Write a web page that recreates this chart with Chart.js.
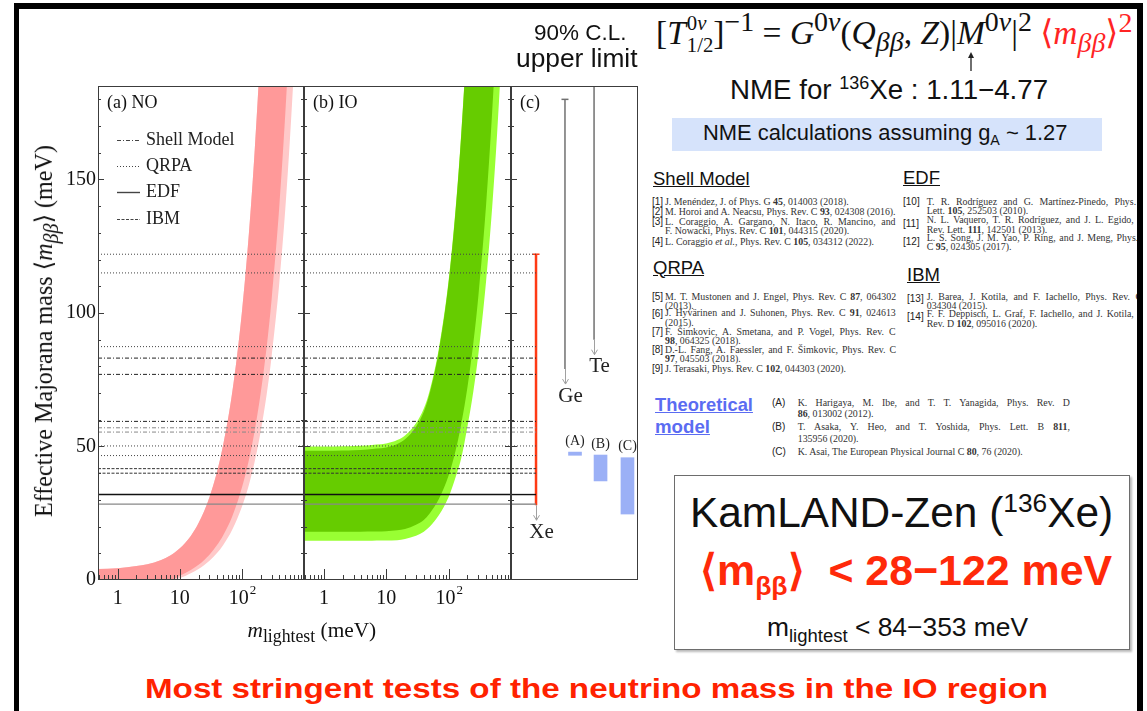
<!DOCTYPE html>
<html>
<head>
<meta charset="utf-8">
<title>KamLAND-Zen effective Majorana mass</title>
<script src="https://cdn.jsdelivr.net/npm/chart.js@4.4.1/dist/chart.umd.min.js"></script>
<style>
  html, body { margin: 0; padding: 0; background: #fff; }
  #slide { position: relative; width: 1147px; height: 711px; overflow: hidden; background: #fff; }
  #slide canvas { position: absolute; }
  .t { position: absolute; white-space: nowrap; line-height: 1; }
  .serif { font-family: "Liberation Serif", "DejaVu Serif", serif; }
  .sans { font-family: "Liberation Sans", Arial, sans-serif; }
  .t sub, .t sup { line-height: 0; }
  #frame { position: absolute; left: 14px; top: 3px; width: 1118px; height: 760px; border-style: solid; border-color: #000; border-width: 6px 6px 0 5px; z-index: 10; }
  #coverR { position: absolute; left: 1143px; top: 0; width: 4px; height: 711px; background: #fff; z-index: 11; }
  #nmeBox { position: absolute; left: 672px; top: 118px; width: 430px; height: 33px; background: #d6e3fb; }
  #klzBox { position: absolute; left: 674px; top: 475px; width: 454px; height: 173px; border: 1.5px solid #6d6d6d; box-shadow: 2px 2px 2px #bbb; }
</style>
</head>
<body>
<div id="slide">
  <div id="nmeBox"></div>
  <div id="klzBox"></div>
  <canvas id="panelA" width="280" height="560" style="left:30px;top:76px"></canvas>
  <canvas id="panelB" width="224" height="560" style="left:296px;top:76px"></canvas>
  <canvas id="panelC" width="144" height="560" style="left:503px;top:76px"></canvas>
  <div id="frame"></div>
  <div id="coverR"></div>
</div>
<script>
// ---- values ----
const mLightest = [0.48, 1, 2, 3, 5, 7, 10, 15, 20, 30, 40, 50, 70, 100, 130, 160, 200, 250, 300, 400, 500, 600, 700, 850, 1000];

// normal ordering band (meV)
const noUpper      = [4.1, 4.4, 5.2, 5.9, 7.5, 9.2, 11.9, 16.5, 21.3, 31.0, 40.8, 50.7, 70.5, 100.4, 130.3, 160.3, 200.2, 250.2, 300.2, 400.2, 500.2, 600.2, 700.2, 850.2, 1000.2];
const noLowerDark  = [0, 0, 0, 0, 0, 0, 1.6, 3.7, 5.7, 9.5, 13.2, 16.8, 23.9, 34.6, 45.1, 55.7, 69.8, 87.2, 104.8, 139.8, 174.8, 209.8, 244.9, 297.4, 349.9];
const noLowerLight = [0, 0, 0, 0, 0, 0, 0.7, 2.5, 4.1, 7.2, 10.2, 13.1, 18.9, 27.4, 35.8, 44.2, 55.5, 69.4, 83.4, 111.2, 139.0, 166.9, 194.7, 236.4, 278.2];

// inverted ordering band (meV)
const ioUpperDark  = [48.4, 48.4, 48.5, 48.6, 48.9, 49.2, 49.6, 50.9, 52.7, 57.4, 63.0, 70.1, 86.0, 111.4, 138.9, 167.3, 206.0, 254.9, 304.6, 404.5, 504.5, 604.5, 704.5, 854.5, 1004.5];
const ioUpperLight = [50.0, 50.0, 50.1, 50.2, 50.4, 50.7, 51.1, 52.4, 54.1, 58.7, 64.2, 71.2, 87.0, 112.3, 139.7, 168.0, 206.7, 255.5, 305.2, 405.0, 505.0, 605.0, 705.0, 855.0, 1005.0];
const ioLowerDark  = [18.1, 18.1, 18.1, 18.1, 18.2, 18.2, 18.3, 18.6, 19.1, 20.7, 22.5, 25.0, 30.4, 39.1, 48.7, 58.7, 72.1, 89.1, 106.4, 140.9, 175.7, 210.5, 244.9, 297.0, 349.0];
const ioLowerLight = [14.7, 14.7, 14.7, 14.7, 14.7, 14.8, 14.8, 14.9, 15.4, 16.6, 18.1, 20.0, 24.3, 31.1, 38.7, 45.8, 57.4, 70.9, 84.6, 112.3, 139.8, 167.5, 195.7, 236.7, 278.0];

// KamLAND-Zen limits for each NME calculation (meV)
const shellModelLimits = [83.1, 77.0, 59.4, 57.0, 55.4];
const qrpaLimits = [122, 115, 87.4, 50.2, 46.6];
const edfLimits = [32.0, 28.4];
const ibmLimits = [41.7, 40.0];

// panel (c)
const expNames = ['Xe', 'Ge', 'Te'];
const expLow = [28, 79, 90];
const expHigh = [122, 180, 305];
const modelNames = ['(A)', '(B)', '(C)'];
const modelLow = [46.7, 37.1, 24.7];
const modelHigh = [47.9, 46.8, 45.8];

// axes
const yTicks = [0, 50, 100, 150];
const xTicks = [1, 10, 100];
const xTickBase = ['1', '10', '10'];
const xTickExp = ['', '', '2'];

// ---- styling ----
const nmeGroups = [['Shell Model', shellModelLimits], ['QRPA', qrpaLimits], ['EDF', edfLimits], ['IBM', ibmLimits]];
const nmeStyle = {
  'Shell Model': { dash: [4, 2, 1, 2], width: 1, colors: ['#222', '#222', '#222', '#888', '#888'] },
  'QRPA':        { dash: [1, 2], width: 1, colors: ['#444'] },
  'EDF':         { dash: [], width: 1.4, colors: ['#111', '#888'] },
  'IBM':         { dash: [3, 1.5], width: 1, colors: ['#333'] }
};
const cSlot = { exp: [0.197, 0.425, 0.654], model: [0.504, 0.705, 0.917] };
const serif = '"Liberation Serif", "DejaVu Serif", serif';

function edge(ys, extra) {
  return Object.assign({
    type: 'line', data: mLightest.map((x, i) => ({ x: x, y: ys[i] })),
    pointRadius: 0, borderWidth: 0, borderColor: 'rgba(0,0,0,0)',
    cubicInterpolationMode: 'monotone', fill: false
  }, extra);
}

function nmeLines(x0, x1) {
  const out = [];
  nmeGroups.forEach(([name, vals]) => {
    const st = nmeStyle[name];
    vals.forEach((v, i) => out.push({
      type: 'line', data: [{ x: x0, y: v }, { x: x1, y: v }],
      borderColor: st.colors[i % st.colors.length], borderWidth: st.width, borderDash: st.dash,
      pointRadius: 0, fill: false, order: 0
    }));
  });
  return out;
}

// frame, inward ticks, tick labels and annotations of each panel
const panelDeco = {
  id: 'panelDeco',
  afterDatasetsDraw(chart, args, opt) {
    const ctx = chart.ctx, a = chart.chartArea;
    const xs = chart.scales.x, ys = chart.scales.y;
    ctx.save();
    ctx.strokeStyle = '#3c3c3c';
    ctx.lineWidth = 1;
    ctx.setLineDash([]);
    ctx.strokeRect(a.left + 0.5, a.top + 0.5, a.right - a.left - 1, a.bottom - a.top - 1);

    ctx.beginPath();
    for (let v = 10; v < ys.max; v += 10) {
      const py = Math.round(ys.getPixelForValue(v)) + 0.5;
      const len = v % 50 === 0 ? 6 : 3;
      if (opt.ticksLeft) { ctx.moveTo(a.left, py); ctx.lineTo(a.left + len, py); }
      if (opt.ticksRight) { ctx.moveTo(a.right, py); ctx.lineTo(a.right - len, py); }
    }
    if (opt.logTicks) {
      [0.1, 1, 10, 100].forEach(d => {
        for (let k = 1; k < 10; k++) {
          const v = k * d;
          if (v <= xs.min || v >= xs.max) continue;
          const px = Math.round(xs.getPixelForValue(v)) + 0.5;
          ctx.moveTo(px, a.bottom);
          ctx.lineTo(px, a.bottom - (k === 1 ? 11 : 5));
        }
      });
    }
    ctx.stroke();

    ctx.fillStyle = '#111';
    if (opt.yLabels) {
      ctx.font = '20px ' + serif;
      ctx.textAlign = 'right';
      ctx.textBaseline = 'middle';
      yTicks.forEach(v => ctx.fillText(String(v), a.left - 2, ys.getPixelForValue(v)));
    }
    if (opt.logTicks) {
      ctx.textBaseline = 'middle';
      ctx.textAlign = 'left';
      xTicks.forEach((v, i) => {
        ctx.font = '20px ' + serif;
        const wb = ctx.measureText(xTickBase[i]).width;
        ctx.font = '13px ' + serif;
        const we = xTickExp[i] ? ctx.measureText(xTickExp[i]).width : 0;
        const x0 = xs.getPixelForValue(v) - (wb + we) / 2;
        ctx.font = '20px ' + serif;
        ctx.fillText(xTickBase[i], x0, a.bottom + 19);
        if (we) { ctx.font = '13px ' + serif; ctx.fillText(xTickExp[i], x0 + wb + 1, a.bottom + 11); }
      });
    }
    if (opt.tag) {
      ctx.font = '18px ' + serif;
      ctx.textAlign = 'left';
      ctx.textBaseline = 'middle';
      ctx.fillText(opt.tag, a.left + 9, a.top + 17);
    }
    if (opt.legend) {
      const rows = [54, 80, 106, 133];
      ctx.font = '18px ' + serif;
      nmeGroups.forEach(([name], i) => {
        const st = nmeStyle[name];
        const y = a.top + rows[i] + 0.5;
        ctx.strokeStyle = '#444';
        ctx.lineWidth = st.width;
        ctx.setLineDash(st.dash);
        ctx.beginPath(); ctx.moveTo(a.left + 19, y); ctx.lineTo(a.left + 42, y); ctx.stroke();
        ctx.setLineDash([]);
        ctx.fillStyle = '#222';
        ctx.fillText(name, a.left + 48, y);
      });
    }
    if (opt.limits) {
      ctx.lineWidth = 1;
      ctx.strokeStyle = '#a0a0a0';
      ctx.fillStyle = '#222';
      ctx.font = '21px ' + serif;
      ctx.textAlign = 'center';
      ctx.textBaseline = 'middle';
      expNames.forEach((n, i) => {
        const px = Math.round(xs.getPixelForValue(cSlot.exp[i])) + 0.5;
        const py = ys.getPixelForValue(expLow[i]);
        const tip = py + 15;
        ctx.beginPath();
        ctx.moveTo(px, py); ctx.lineTo(px, tip);
        ctx.moveTo(px - 3, tip - 5); ctx.lineTo(px, tip); ctx.lineTo(px + 3, tip - 5);
        ctx.stroke();
        ctx.fillText(n, px + 5, tip + 12);
      });
      ctx.font = '14px ' + serif;
      modelNames.forEach((n, i) => {
        const px = xs.getPixelForValue(cSlot.model[i]);
        ctx.fillText(n, px, ys.getPixelForValue(modelHigh[i]) - 11);
      });
    }
    ctx.restore();
  }
};

function makePanel(id, datasets, xScale, padding, deco) {
  return new Chart(document.getElementById(id), {
    type: 'line',
    data: { datasets: datasets },
    options: {
      responsive: false, animation: false, devicePixelRatio: 1, events: [],
      layout: { padding: padding },
      scales: { x: xScale, y: { type: 'linear', min: 0, max: 185, display: false } },
      plugins: { legend: { display: false }, tooltip: { enabled: false }, panelDeco: deco }
    },
    plugins: [panelDeco]
  });
}

const logX = { type: 'logarithmic', min: 0.48, max: 1000, display: false };

makePanel('panelA', [
  edge(noUpper, { fill: { target: 1 }, backgroundColor: '#ffc9c9', order: 3 }),
  edge(noLowerLight, { order: 3 }),
  edge(noUpper, { fill: { target: 3 }, backgroundColor: '#ff9999', order: 2 }),
  edge(noLowerDark, { order: 2 }),
  ...nmeLines(0.48, 1000)
], logX, { left: 68, top: 10, right: 6, bottom: 56 },
  { ticksLeft: true, ticksRight: true, logTicks: true, yLabels: true, tag: '(a) NO', legend: true });

makePanel('panelB', [
  edge(ioUpperLight, { fill: { target: 1 }, backgroundColor: '#99ff33', order: 3 }),
  edge(ioLowerLight, { order: 3 }),
  edge(ioUpperDark, { fill: { target: 3 }, backgroundColor: '#66cc00', order: 2 }),
  edge(ioLowerDark, { order: 2 }),
  ...nmeLines(0.48, 1000)
], logX, { left: 8, top: 10, right: 9, bottom: 56 },
  { ticksLeft: true, ticksRight: true, logTicks: true, tag: '(b) IO' });

const expSets = expNames.map((n, i) => ({
  type: 'line',
  data: [{ x: cSlot.exp[i], y: expLow[i] }, { x: cSlot.exp[i], y: expHigh[i] }],
  borderColor: i === 0 ? '#ff3a14' : '#707070', borderWidth: i === 0 ? 2.5 : 1.5,
  pointStyle: 'line', pointRadius: c => c.dataIndex === 1 ? 3.5 : 0,
  pointBorderColor: i === 0 ? '#ff3a14' : '#707070', pointBorderWidth: 1.5, fill: false, order: 0
}));

makePanel('panelC', [
  ...nmeLines(0, cSlot.exp[0]),
  ...expSets,
  {
    type: 'bar',
    data: modelNames.map((n, i) => ({ x: cSlot.model[i], y: [modelLow[i], modelHigh[i]] })),
    backgroundColor: '#9bb0f6', borderWidth: 0, barThickness: 13, order: 1
  }
], { type: 'linear', min: 0, max: 1, offset: false, display: false, grid: { offset: false } },
  { left: 8, top: 10, right: 9, bottom: 56 },
  { ticksLeft: true, limits: true, tag: '(c)' });

// ---- slide text ----
const slide = document.getElementById('slide');
function txt(html, o) {
  const d = document.createElement('div');
  d.className = 't ' + (o.font || 'sans');
  d.innerHTML = html;
  d.style.fontSize = o.size + 'px';
  if (o.color) d.style.color = o.color;
  if (o.bold) d.style.fontWeight = 'bold';
  if (o.under) d.style.textDecoration = 'underline';
  slide.appendChild(d);
  if (o.w && !o.squeeze) d.style.fontSize = (o.size * o.w / d.offsetWidth) + 'px';
  if (o.just) {
    const spaces = (d.textContent.match(/ /g) || []).length;
    if (spaces) d.style.wordSpacing = ((o.just - d.offsetWidth) / spaces) + 'px';
  }
  const w = d.offsetWidth, h = d.offsetHeight;
  let left = o.x;
  if (o.align === 'center') left = o.x - w / 2;
  d.style.left = left + 'px';
  d.style.top = (o.top !== undefined ? o.top : o.y - h / 2) + 'px';
  const tf = [];
  if (o.squeeze) tf.push('scaleX(' + (o.w / w) + ')');
  if (o.rotate) tf.push('rotate(' + o.rotate + 'deg)');
  if (tf.length) d.style.transform = tf.join(' ');
  return d;
}

txt('Effective Majorana mass ⟨<i>m</i><sub><i>ββ</i></sub>⟩ (meV)', { font: 'serif', size: 22, w: 372, x: 44, y: 331, align: 'center', rotate: -90, color: '#111' });
txt('<i>m</i><sub>lightest</sub> (meV)', { font: 'serif', size: 22, w: 129, x: 312, y: 630, align: 'center', color: '#111' });

txt('90% C.L.', { size: 22, w: 93, x: 580, y: 33, align: 'center', color: '#111' });
txt('upper limit', { size: 22, w: 121, x: 577, y: 58, align: 'center', color: '#111' });

const stack = '<span style="display:inline-block;vertical-align:-0.4em;font-size:0.62em;line-height:1.05;margin-left:1px"><span style="display:block">0<i>ν</i></span><span style="display:block">1/2</span></span>';
txt('[<i>T</i>' + stack + ']<sup>−1</sup> = <i>G</i><sup>0<i>ν</i></sup>(<i>Q</i><sub><i>ββ</i></sub>, <i>Z</i>)|<i id="nmeM">M</i><sup>0<i>ν</i></sup>|<sup>2</sup> <span style="color:#ff2424">⟨<i>m</i><sub><i>ββ</i></sub>⟩<sup>2</sup></span>',
  { font: 'serif', size: 26, w: 477, x: 656, top: 12, color: '#111' });
const mRect = document.getElementById('nmeM').getBoundingClientRect();
const arrow = document.createElement('div');
arrow.style.cssText = 'position:absolute;top:52px;width:10px;height:19px;left:' + (mRect.left + mRect.width / 2 - 5) + 'px';
arrow.innerHTML = '<svg width="10" height="19"><line x1="5" y1="4" x2="5" y2="19" stroke="#222" stroke-width="1.3"/><path d="M2 6 L5 0 L8 6 Z" fill="#222"/></svg>';
slide.appendChild(arrow);

txt('NME for <sup style="font-size:0.65em">136</sup>Xe : 1.11−4.77', { size: 25, w: 318, x: 730, y: 90, color: '#111' });
txt('NME calculations assuming g<sub style="font-size:0.65em">A</sub> ~ 1.27', { size: 17, w: 365, x: 885, y: 133, align: 'center', color: '#111' });

txt('Shell Model', { size: 18.5, w: 97, x: 653, y: 179, under: true, color: '#111' });
txt('EDF', { size: 18.5, w: 37, x: 903, y: 178, under: true, color: '#111' });
txt('QRPA', { size: 18.5, w: 51, x: 653, y: 268, under: true, color: '#111' });
txt('IBM', { size: 18.5, w: 33, x: 907, y: 275, under: true, color: '#111' });

const probe = txt('M. Horoi and A. Neacsu, Phys. Rev. C <b>93</b>, 024308 (2016).', { font: 'serif', size: 9.5, w: 231, x: 665, y: 211.7, color: '#333' });
const rs = parseFloat(probe.style.fontSize);
function ref(html, x, y, just) { return txt(html, { font: 'serif', size: rs, x: x, y: y, color: '#333', just: just }); }
function tag(s, x, y) { return txt(s, { size: 10, x: x, y: y, color: '#222' }); }

tag('[1]', 652, 201.7); ref('J. Menéndez, J. of Phys. G <b>45</b>, 014003 (2018).', 665, 201.7);
tag('[2]', 652, 211.7);
tag('[3]', 652, 222.3); ref('L. Coraggio, A. Gargano, N. Itaco, R. Mancino, and', 665, 222.3, 231); ref('F. Nowacki, Phys. Rev. C <b>101</b>, 044315 (2020).', 665, 230.7);
tag('[4]', 652, 241.7); ref('L. Coraggio <i>et al.</i>, Phys. Rev. C <b>105</b>, 034312 (2022).', 665, 241.7);

tag('[5]', 652, 297); ref('M. T. Mustonen and J. Engel, Phys. Rev. C <b>87</b>, 064302', 665, 296.7, 231); ref('(2013).', 665, 305.7);
tag('[6]', 652, 314); ref('J. Hyvärinen and J. Suhonen, Phys. Rev. C <b>91</b>, 024613', 665, 313.3, 231); ref('(2015).', 665, 323);
tag('[7]', 652, 332); ref('F. Šimkovic, A. Smetana, and P. Vogel, Phys. Rev. C', 665, 332, 231); ref('<b>98</b>, 064325 (2018).', 665, 341);
tag('[8]', 652, 350); ref('D.-L. Fang, A. Faessler, and F. Šimkovic, Phys. Rev. C', 665, 350, 231); ref('<b>97</b>, 045503 (2018).', 665, 359);
tag('[9]', 652, 369.3); ref('J. Terasaki, Phys. Rev. C <b>102</b>, 044303 (2020).', 665, 369.3);

tag('[10]', 903, 201.7); ref('T. R. Rodríguez and G. Martínez-Pinedo, Phys. Rev.', 926.7, 201.7, 233); ref('Lett. <b>105</b>, 252503 (2010).', 926.7, 210.5);
tag('[11]', 903, 224); ref('N. L. Vaquero, T. R. Rodríguez, and J. L. Egido, Phys.', 926.7, 220, 233); ref('Rev. Lett. <b>111</b>, 142501 (2013).', 926.7, 229.5);
tag('[12]', 903, 242); ref('L. S. Song, J. M. Yao, P. Ring, and J. Meng, Phys. Rev.', 926.7, 237.5, 233); ref('C <b>95</b>, 024305 (2017).', 926.7, 247);
tag('[13]', 907, 299); ref('J. Barea, J. Kotila, and F. Iachello, Phys. Rev. C <b>91</b>,', 926.7, 296.7, 233); ref('034304 (2015).', 926.7, 305.7);
tag('[14]', 907, 316.7); ref('F. F. Deppisch, L. Graf, F. Iachello, and J. Kotila, Phys.', 926.7, 314.3, 233); ref('Rev. D <b>102</b>, 095016 (2020).', 926.7, 324);

txt('Theoretical', { size: 18, w: 98, x: 655, y: 405, bold: true, under: true, color: '#5b6cf2' });
txt('model', { size: 18, w: 55, x: 655, y: 427, bold: true, under: true, color: '#5b6cf2' });
tag('(A)', 772, 402.7); ref('K. Harigaya, M. Ibe, and T. T. Yanagida, Phys. Rev. D', 797.7, 402.7, 272); ref('<b>86</b>, 013002 (2012).', 797.7, 414);
tag('(B)', 772, 426.7); ref('T. Asaka, Y. Heo, and T. Yoshida, Phys. Lett. B <b>811</b>,', 797.7, 426.7, 272); ref('135956 (2020).', 797.7, 439);
tag('(C)', 772, 452); ref('K. Asai, The European Physical Journal C <b>80</b>, 76 (2020).', 797.7, 452);

txt('KamLAND-Zen (<sup style="font-size:0.62em">136</sup>Xe)', { size: 39, w: 423, x: 901.5, y: 513, align: 'center', color: '#111' });
txt('⟨m<sub style="font-size:0.62em">ββ</sub>⟩&nbsp; &lt; 28−122 meV', { size: 38, w: 412, x: 906, y: 570, align: 'center', bold: true, color: '#ff2a0a' });
txt('m<sub style="font-size:0.7em">lightest</sub> &lt; 84−353 meV', { size: 25, w: 261, x: 897.5, y: 627, align: 'center', color: '#111' });

txt('Most stringent tests of the neutrino mass in the IO region', { font: 'sans', size: 27, w: 903, squeeze: true, x: 596.5, y: 689, align: 'center', bold: true, color: '#ff2200' });
</script>
</body>
</html>
